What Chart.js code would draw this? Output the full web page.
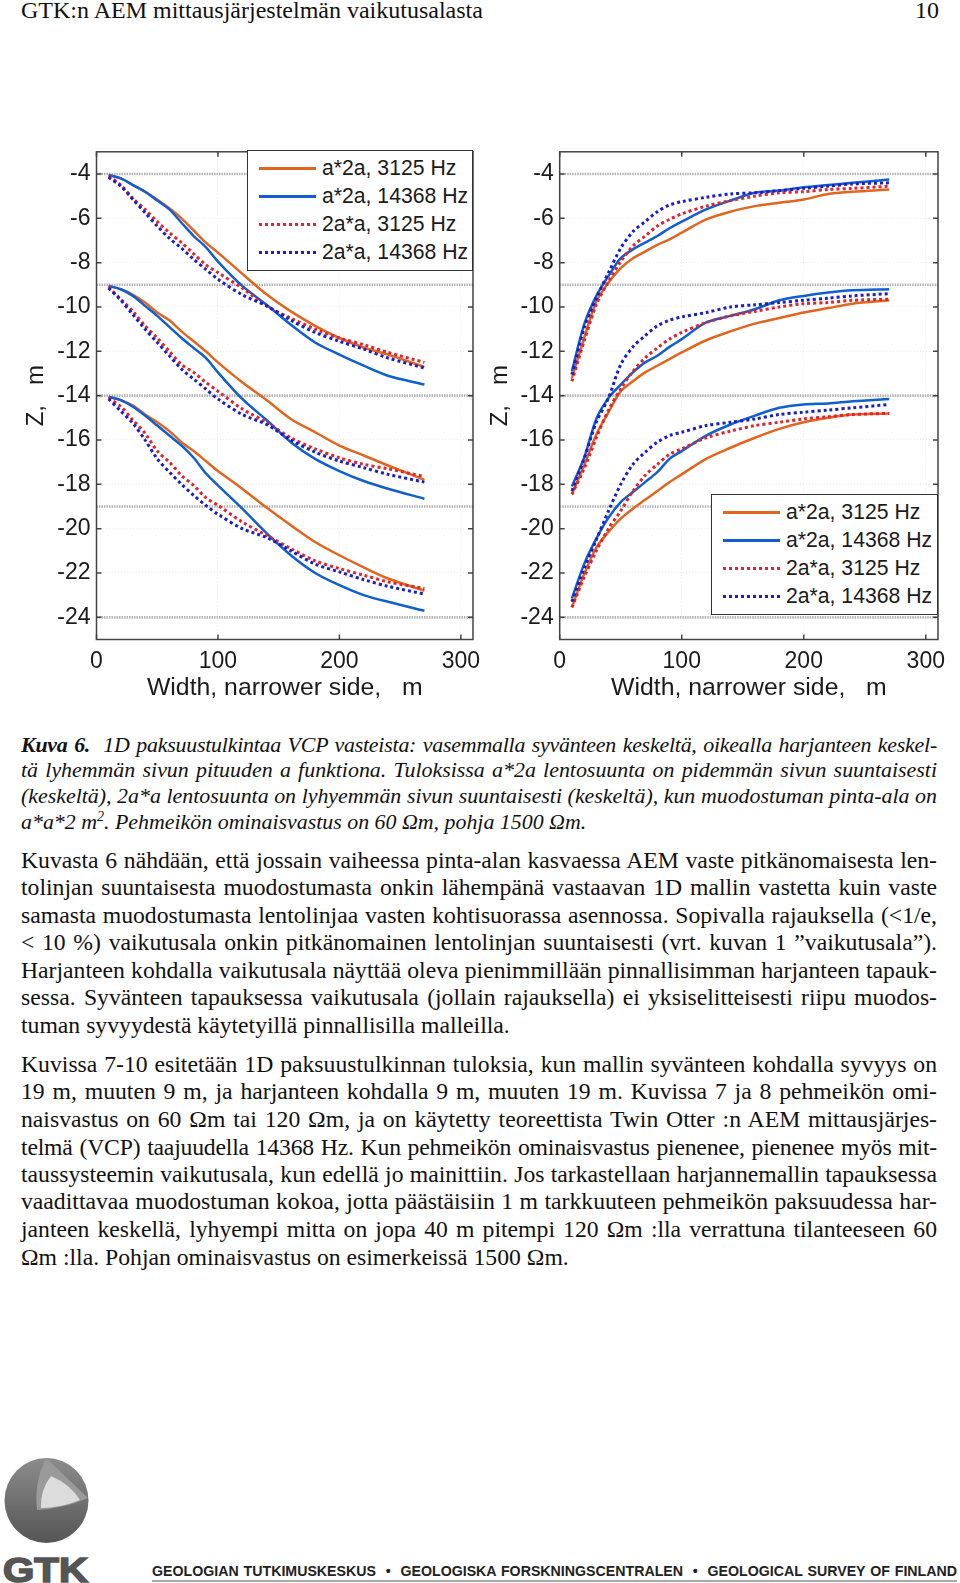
<!DOCTYPE html>
<html>
<head>
<meta charset="utf-8">
<title>GTK</title>
<script src="https://cdn.jsdelivr.net/npm/chart.js@4"></script>
<style>
html, body { margin: 0; padding: 0; background: #fff; }
body { position: relative; width: 960px; height: 1583px; overflow: hidden; }
canvas { position: absolute; }
.ln { position: absolute; left: 21px; width: 916px; font: 23.7px/26px "Liberation Serif", serif; color: #111;
      text-align: justify; text-align-last: justify; white-space: normal; }
.end { text-align-last: left; }
.cap { font-style: italic; font-size: 21.9px; }
.ln sup { font-size: 14px; line-height: 0; }
.legend { position: absolute; background: #fff; border: 1.5px solid #333; box-sizing: border-box;
          font: 21.2px "Liberation Sans", sans-serif; color: #1a1a1a; }
.legend div { position: absolute; white-space: nowrap; }
.legend i { position: absolute; left: 11px; top: 13px; width: 57px; height: 0; }
.legend span { position: absolute; left: 74px; top: 0; line-height: 28px; }
#foot { position: absolute; left: 152px; top: 1563px; width: 805px; font: bold 14.2px "Liberation Sans", sans-serif;
        color: #222; white-space: nowrap; text-align: justify; text-align-last: justify; }
#rule { position: absolute; left: 152px; top: 1580px; width: 805px; height: 2px; background: #aaa; }
</style>
</head>
<body>
<div class="ln end" style="top:-3px;font-size:24px">GTK:n AEM mittausjärjestelmän vaikutusalasta</div>
<div class="ln end" style="top:-3px;left:915px;width:40px;font-size:24px">10</div>

<canvas id="leftChart" width="500" height="572" style="left:0;top:132px"></canvas>
<canvas id="rightChart" width="480" height="572" style="left:480px;top:132px"></canvas>
<div class="legend" id="leftLegend" style="left:247px;top:150px;width:226px;height:121px"></div>
<div class="legend" id="rightLegend" style="left:711px;top:494px;width:227px;height:121px"></div>

<div class="ln cap" style="top:732px;letter-spacing:-0.22px"><b>Kuva 6.</b>&nbsp; 1D paksuustulkintaa VCP vasteista: vasemmalla syvänteen keskeltä, oikealla harjanteen keskel-</div>
<div class="ln cap" style="top:757px">tä lyhemmän sivun pituuden a funktiona. Tuloksissa a*2a lentosuunta on pidemmän sivun suuntaisesti</div>
<div class="ln cap" style="top:783px">(keskeltä), 2a*a lentosuunta on lyhyemmän sivun suuntaisesti (keskeltä), kun muodostuman pinta-ala on</div>
<div class="ln cap end" style="top:809px">a*a*2 m<sup>2</sup>. Pehmeikön ominaisvastus on 60 Ωm, pohja 1500 Ωm.</div>

<div class="ln" style="top:847px">Kuvasta 6 nähdään, että jossain vaiheessa pinta-alan kasvaessa AEM vaste pitkänomaisesta len-</div>
<div class="ln" style="top:874px">tolinjan suuntaisesta muodostumasta onkin lähempänä vastaavan 1D mallin vastetta kuin vaste</div>
<div class="ln" style="top:902px">samasta muodostumasta lentolinjaa vasten kohtisuorassa asennossa. Sopivalla rajauksella (&lt;1/e,</div>
<div class="ln" style="top:929px">&lt; 10 %) vaikutusala onkin pitkänomainen lentolinjan suuntaisesti (vrt. kuvan 1 ”vaikutusala”).</div>
<div class="ln" style="top:957px">Harjanteen kohdalla vaikutusala näyttää oleva pienimmillään pinnallisimman harjanteen tapauk-</div>
<div class="ln" style="top:984px">sessa. Syvänteen tapauksessa vaikutusala (jollain rajauksella) ei yksiselitteisesti riipu muodos-</div>
<div class="ln end" style="top:1012px">tuman syvyydestä käytetyillä pinnallisilla malleilla.</div>

<div class="ln" style="top:1051px">Kuvissa 7-10 esitetään 1D paksuustulkinnan tuloksia, kun mallin syvänteen kohdalla syvyys on</div>
<div class="ln" style="top:1078px">19 m, muuten 9 m, ja harjanteen kohdalla 9 m, muuten 19 m. Kuvissa 7 ja 8 pehmeikön omi-</div>
<div class="ln" style="top:1106px">naisvastus on 60 Ωm tai 120 Ωm, ja on käytetty teoreettista Twin Otter :n AEM mittausjärjes-</div>
<div class="ln" style="top:1134px;letter-spacing:-0.2px">telmä (VCP) taajuudella 14368 Hz. Kun pehmeikön ominaisvastus pienenee, pienenee myös mit-</div>
<div class="ln" style="top:1161px">taussysteemin vaikutusala, kun edellä jo mainittiin. Jos tarkastellaan harjannemallin tapauksessa</div>
<div class="ln" style="top:1188px">vaadittavaa muodostuman kokoa, jotta päästäisiin 1 m tarkkuuteen pehmeikön paksuudessa har-</div>
<div class="ln" style="top:1216px">janteen keskellä, lyhyempi mitta on jopa 40 m pitempi 120 Ωm :lla verrattuna tilanteeseen 60</div>
<div class="ln end" style="top:1244px">Ωm :lla. Pohjan ominaisvastus on esimerkeissä 1500 Ωm.</div>

<svg style="position:absolute;left:0;top:1450px" width="96" height="133" viewBox="0 0 96 133">
  <defs><linearGradient id="g" x1="0" y1="0" x2="0" y2="1">
    <stop offset="0" stop-color="#8c8c8c"/><stop offset="1" stop-color="#555"/></linearGradient></defs>
  <ellipse cx="46.5" cy="50.5" rx="42" ry="42.5" fill="url(#g)"/>
  <path d="M46 8 L88 48 Q66 58 37 60 Q34 32 46 8Z" fill="#9a9a9a"/>
  <path d="M51 26 Q70 34 80 50 Q60 58 41 58 Q40 40 51 26Z" fill="#dcdcdc"/>
  <text x="3" y="132" font-family="Liberation Sans" font-weight="bold" font-size="35" fill="#555" stroke="#555" stroke-width="1.6" textLength="85" lengthAdjust="spacingAndGlyphs">GTK</text>
</svg>
<div id="foot">GEOLOGIAN TUTKIMUSKESKUS &nbsp;•&nbsp; GEOLOGISKA FORSKNINGSCENTRALEN &nbsp;•&nbsp; GEOLOGICAL SURVEY OF FINLAND</div>
<div id="rule"></div>

<script>
// Leveys (m), yhteinen kaikille kayrille
const widths = [10, 20, 30, 40, 50, 60, 70, 80, 90, 100, 120, 140, 160, 180, 200, 220, 240, 270];
const xTicks = [0, 100, 200, 300];
const yTicks = [-4, -6, -8, -10, -12, -14, -16, -18, -20, -22, -24];
const levels = [-4, -9, -14, -19, -24];
const legendLabels = ['a*2a, 3125 Hz', 'a*2a, 14368 Hz', '2a*a, 3125 Hz', '2a*a, 14368 Hz'];

// Vasen kuva: syvanne
const leftOrange4 = [-4.05, -4.2, -4.5, -4.8, -5.15, -5.55, -6.0, -6.55, -7.1, -7.55, -8.5, -9.43, -10.2, -10.85, -11.4, -11.83, -12.15, -12.7];
const leftBlue4 = [-4.05, -4.2, -4.5, -4.8, -5.2, -5.6, -6.2, -6.8, -7.3, -7.95, -9.05, -9.9, -10.8, -11.6, -12.15, -12.65, -13.1, -13.5];
const leftRed4 = [-4.1, -4.5, -5.1, -5.6, -6.15, -6.65, -7.1, -7.6, -8.1, -8.45, -9.15, -9.95, -10.5, -11.0, -11.4, -11.7, -12.05, -12.5];
const leftNavy4 = [-4.15, -4.55, -5.15, -5.75, -6.35, -6.9, -7.35, -7.85, -8.3, -8.75, -9.45, -9.95, -10.6, -11.15, -11.55, -11.9, -12.3, -12.75];
const leftOrange9 = [-9.05, -9.2, -9.45, -9.8, -10.25, -10.6, -11.1, -11.55, -12.0, -12.5, -13.4, -14.2, -15.05, -15.65, -16.25, -16.7, -17.15, -17.8];
const leftBlue9 = [-9.05, -9.2, -9.5, -9.95, -10.4, -10.9, -11.4, -11.85, -12.3, -12.95, -14.15, -15.1, -16.1, -16.85, -17.4, -17.85, -18.2, -18.65];
const leftRed9 = [-9.1, -9.65, -10.2, -10.85, -11.4, -12.0, -12.6, -12.95, -13.4, -13.8, -14.6, -15.2, -15.9, -16.4, -16.8, -17.1, -17.3, -17.65];
const leftNavy9 = [-9.15, -9.7, -10.35, -11.0, -11.6, -12.2, -12.8, -13.25, -13.7, -14.15, -14.85, -15.3, -16.0, -16.55, -16.95, -17.25, -17.55, -17.9];
const leftOrange14 = [-14.05, -14.2, -14.45, -14.85, -15.2, -15.6, -16.1, -16.5, -16.95, -17.4, -18.2, -19.05, -19.85, -20.6, -21.2, -21.75, -22.25, -22.8];
const leftBlue14 = [-14.05, -14.2, -14.5, -14.9, -15.35, -15.8, -16.25, -16.8, -17.5, -18.05, -19.1, -20.2, -21.2, -22.0, -22.55, -23.0, -23.3, -23.7];
const leftRed14 = [-14.1, -14.5, -15.1, -15.7, -16.5, -17.0, -17.6, -18.05, -18.6, -18.95, -19.7, -20.3, -20.9, -21.45, -21.8, -22.1, -22.4, -22.7];
const leftNavy14 = [-14.15, -14.7, -15.25, -16.0, -16.85, -17.45, -18.0, -18.5, -18.95, -19.35, -20.0, -20.4, -21.0, -21.6, -21.95, -22.3, -22.6, -22.95];

// Oikea kuva: harjanne
const rightOrange4 = [-13.2, -11.4, -9.75, -8.9, -8.25, -7.8, -7.5, -7.2, -6.95, -6.65, -6.05, -5.7, -5.45, -5.3, -5.15, -4.9, -4.8, -4.7];
const rightBlue4 = [-12.9, -10.8, -9.5, -8.6, -7.8, -7.4, -7.1, -6.8, -6.45, -6.15, -5.6, -5.2, -4.85, -4.75, -4.6, -4.5, -4.4, -4.25];
const rightRed4 = [-13.35, -11.55, -9.9, -8.85, -7.95, -7.25, -6.8, -6.35, -6.05, -5.8, -5.45, -5.2, -5.0, -4.85, -4.8, -4.7, -4.65, -4.55];
const rightNavy4 = [-13.05, -10.95, -9.6, -8.45, -7.35, -6.6, -6.15, -5.7, -5.4, -5.25, -5.05, -4.9, -4.85, -4.75, -4.65, -4.55, -4.45, -4.4];
const rightOrange9 = [-18.45, -17.15, -15.75, -14.75, -13.8, -13.35, -12.95, -12.65, -12.35, -12.05, -11.5, -11.1, -10.75, -10.5, -10.25, -10.05, -9.85, -9.7];
const rightBlue9 = [-18.1, -16.8, -15.05, -14.1, -13.5, -12.95, -12.5, -12.2, -11.8, -11.45, -10.7, -10.4, -10.1, -9.7, -9.5, -9.35, -9.25, -9.2];
const rightRed9 = [-18.45, -17.3, -15.9, -14.65, -13.7, -12.9, -12.3, -11.85, -11.45, -11.15, -10.7, -10.4, -10.2, -10.0, -9.85, -9.8, -9.7, -9.65];
const rightNavy9 = [-18.3, -16.85, -15.2, -14.1, -12.6, -11.8, -11.3, -10.85, -10.6, -10.45, -10.25, -10.0, -9.9, -9.8, -9.7, -9.6, -9.5, -9.4];
const rightOrange14 = [-23.55, -22.05, -20.85, -20.15, -19.55, -19.1, -18.7, -18.3, -17.9, -17.55, -16.85, -16.35, -15.9, -15.5, -15.2, -15.0, -14.85, -14.8];
const rightBlue14 = [-23.15, -21.6, -20.45, -19.5, -18.8, -18.35, -17.9, -17.45, -16.85, -16.5, -15.8, -15.3, -14.9, -14.55, -14.4, -14.35, -14.25, -14.15];
const rightRed14 = [-23.55, -22.2, -21.0, -20.0, -19.2, -18.3, -17.6, -17.1, -16.65, -16.4, -15.9, -15.6, -15.35, -15.2, -15.05, -14.95, -14.85, -14.8];
const rightNavy14 = [-23.3, -21.8, -20.5, -19.2, -18.0, -17.1, -16.55, -16.1, -15.8, -15.65, -15.35, -15.2, -15.05, -14.85, -14.75, -14.65, -14.55, -14.4];

const orange = '#e2651f', blue = '#0f5fd0', red = '#e0232c', navy = '#1a1fc4';
const fontName = '"Liberation Sans", Arial, sans-serif';

function linea(values, color, dotted, order) {
    return {
        data: values.map((v, i) => ({ x: widths[i], y: v })),
        borderColor: color,
        borderWidth: dotted ? 3 : 2.5,
        borderDash: dotted ? [3, 3] : [],
        pointRadius: 0,
        tension: 0.3,
        order: order
    };
}

function viivat() {
    // harmaat vaakaviivat mallin syvyyksilla
    return levels.map(v => ({
        data: [{ x: 0, y: v }, { x: 310, y: v }],
        borderColor: '#b4b4b4',
        borderWidth: 2.6,
        borderDash: [1.5, 1],
        pointRadius: 0,
        order: 10
    }));
}

// kehys ja sisaanpain osoittavat merkit
const kehys = {
    id: 'kehys',
    afterDatasetsDraw(chart) {
        const a = chart.chartArea, c = chart.ctx;
        c.save();
        c.strokeStyle = '#444';
        c.lineWidth = 1.5;
        c.beginPath();
        xTicks.forEach(v => {
            const px = chart.scales.x.getPixelForValue(v);
            c.moveTo(px, a.bottom); c.lineTo(px, a.bottom - 5);
            c.moveTo(px, a.top); c.lineTo(px, a.top + 5);
        });
        yTicks.forEach(v => {
            const py = chart.scales.y.getPixelForValue(v);
            c.moveTo(a.left, py); c.lineTo(a.left + 5, py);
            c.moveTo(a.right, py); c.lineTo(a.right - 5, py);
        });
        c.stroke();
        c.strokeRect(a.left, a.top, a.right - a.left, a.bottom - a.top);
        c.restore();
    }
};

function crearChart(id, series, leftWidth, rightPad, titleLeft) {
    new Chart(document.getElementById(id), {
        type: 'line',
        data: {
            datasets: [
                linea(series[0], orange, false, 4), linea(series[1], blue, false, 3),
                linea(series[2], red, true, 2), linea(series[3], navy, true, 1),
                linea(series[4], orange, false, 4), linea(series[5], blue, false, 3),
                linea(series[6], red, true, 2), linea(series[7], navy, true, 1),
                linea(series[8], orange, false, 4), linea(series[9], blue, false, 3),
                linea(series[10], red, true, 2), linea(series[11], navy, true, 1)
            ].concat(viivat())
        },
        options: {
            responsive: false,
            animation: false,
            parsing: false,
            layout: { padding: { top: 2, right: rightPad, left: 0, bottom: 0 } },
            plugins: { legend: { display: false }, title: { display: false }, tooltip: { enabled: false } },
            scales: {
                x: {
                    type: 'linear', min: 0, max: 310,
                    afterBuildTicks: s => { s.ticks = xTicks.map(v => ({ value: v })); },
                    afterFit: s => { s.height = 64.5; },
                    grid: { color: '#ececec', lineWidth: 1, drawTicks: false },
                    border: { display: false, dash: [1, 2] },
                    ticks: { color: '#1a1a1a', font: { family: fontName, size: 23 }, padding: 8, maxRotation: 0, autoSkip: false },
                    title: { display: true, text: 'Width, narrower side,   m', color: '#1a1a1a', font: { family: fontName, size: 24.8 }, padding: { top: 0, bottom: 1 } }
                },
                y: {
                    type: 'linear', min: -25, max: -3,
                    afterBuildTicks: s => { s.ticks = yTicks.map(v => ({ value: v })); },
                    afterFit: s => { s.width = leftWidth; },
                    grid: { color: '#ececec', lineWidth: 1, drawTicks: false },
                    border: { display: false, dash: [1, 2] },
                    ticks: { color: '#1a1a1a', font: { family: fontName, size: 23 }, padding: 6, autoSkip: false },
                    title: { display: true, text: 'Z,   m', color: '#1a1a1a', font: { family: fontName, size: 24 }, padding: { top: titleLeft, bottom: 0 } }
                }
            }
        },
        plugins: [kehys]
    });
}

crearChart('leftChart', [leftOrange4, leftBlue4, leftRed4, leftNavy4, leftOrange9, leftBlue9, leftRed9, leftNavy9,
    leftOrange14, leftBlue14, leftRed14, leftNavy14], 96.5, 27, 22);
crearChart('rightChart', [rightOrange4, rightBlue4, rightRed4, rightNavy4, rightOrange9, rightBlue9, rightRed9, rightNavy9,
    rightOrange14, rightBlue14, rightRed14, rightNavy14], 79.7, 22, 6);

// selite
const legendColors = [orange, blue, red, navy];
['leftLegend', 'rightLegend'].forEach(id => {
    const box = document.getElementById(id);
    legendLabels.forEach((text, i) => {
        const row = document.createElement('div');
        row.style.left = '0px';
        row.style.top = (3 + i * 28) + 'px';
        const mark = document.createElement('i');
        mark.style.borderTop = (i < 2 ? '3px solid ' : '3px dotted ') + legendColors[i];
        const label = document.createElement('span');
        label.textContent = text;
        row.appendChild(mark);
        row.appendChild(label);
        box.appendChild(row);
    });
});
</script>
</body>
</html>
